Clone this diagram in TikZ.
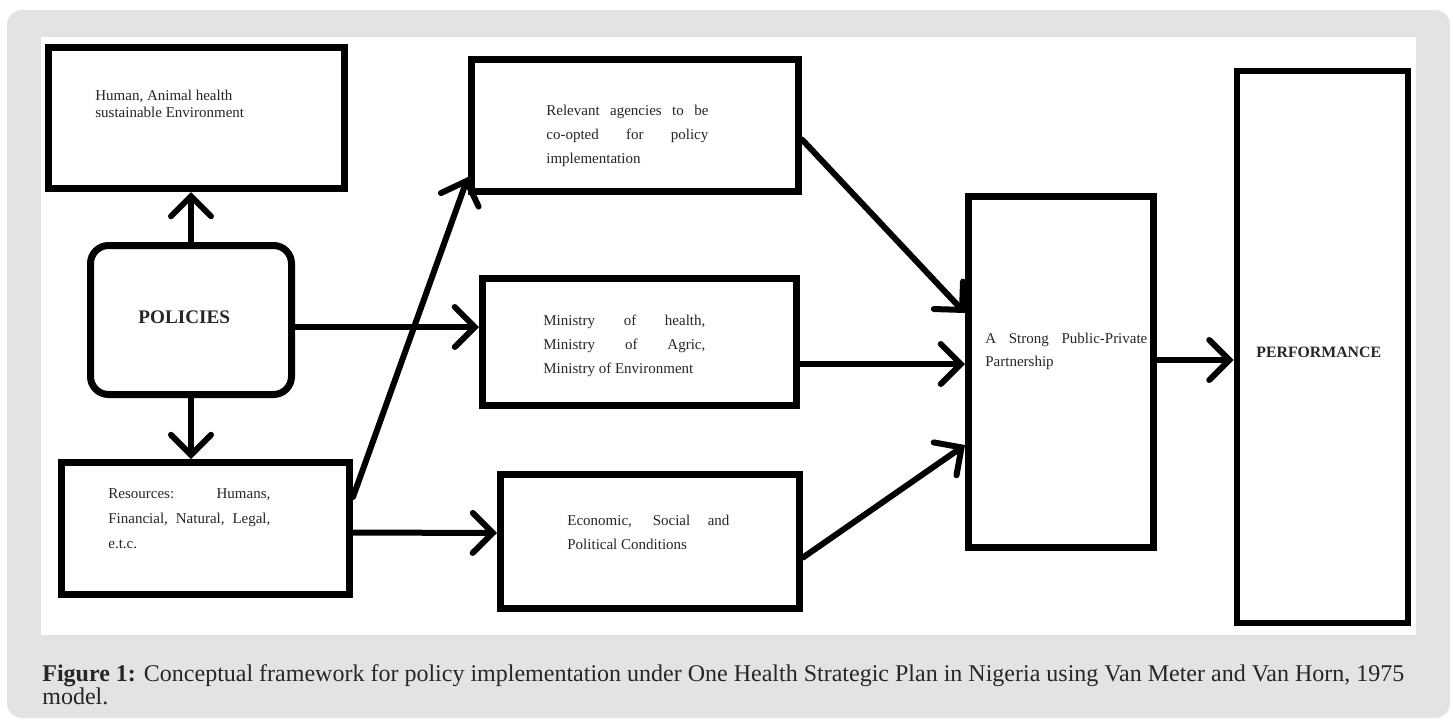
\documentclass[tikz,border=0pt]{standalone}
\usepackage{fontspec}
\setmainfont{Liberation Serif}
\usetikzlibrary{arrows.meta,calc}
\definecolor{panelgray}{HTML}{E3E3E3}
\definecolor{inktext}{HTML}{262626}
\tikzset{
  box/.style={draw, line width=3.5pt, inner sep=0pt},
  conn/.style={line width=3pt, line cap=round, -{Straight Barb[length=10pt,width=20pt,line cap=round]}},
  txt/.style={anchor=north west, inner sep=0pt, align=left, text=inktext, font=\fontsize{7.5}{12}\selectfont},
  captxt/.style={anchor=base west, inner sep=0pt, text=inktext, font=\fontsize{12}{14}\selectfont},
}
\newcommand{\jline}[1]{\makebox[81pt][s]{#1}}
\begin{document}
\begin{tikzpicture}[x=0.5pt,y=-0.5pt]
\useasboundingbox (0,0) rectangle (1453,719);
\fill[white] (0,0) rectangle (1453,719);
\fill[panelgray, rounded corners=7.5pt] (7,10) rectangle (1450,718);
\fill[white] (41,37) rectangle (1416,635);

% boxes
\node[box, minimum width=148pt, minimum height=70.5pt] (hum) at (196.5,118) {};
\node[box, rounded corners=9pt, minimum width=100.5pt, minimum height=74.5pt] (pol) at (191,320) {};
\node[box, minimum width=144pt, minimum height=66pt] (res) at (205.5,528.5) {};
\node[box, minimum width=163.5pt, minimum height=66pt] (rel) at (635,125.5) {};
\node[box, minimum width=157pt, minimum height=63.5pt] (min) at (639.5,342) {};
\node[box, minimum width=149.5pt, minimum height=67pt] (eco) at (650,541.5) {};
\node[box, minimum width=92.5pt, minimum height=175.5pt] (ppp) at (1061,372) {};
\node[box, line width=3pt, minimum width=85.5pt, minimum height=276pt] (perf) at (1322,346.5) {};

% texts
\node[txt, font=\fontsize{7.5}{8.5}\selectfont] (humt) at (95,90) {Human, Animal health\\sustainable Environment};
\node[anchor=base west, inner sep=0pt, text=inktext, font=\fontsize{9.6}{11}\selectfont\bfseries] (polt) at (138,323) {POLICIES};
\node[txt, font=\fontsize{7.5}{12.5}\selectfont] (rest) at (108,488) {\jline{Resources: Humans,}\\\jline{Financial, Natural, Legal,}\\e.t.c.};
\node[txt] (relt) at (546,105) {\jline{Relevant agencies to be}\\\jline{co-opted for policy}\\implementation};
\node[txt] (mint) at (543,315) {\jline{Ministry of health,}\\\jline{Ministry of Agric,}\\Ministry of Environment};
\node[txt] (ecot) at (567,515) {\jline{Economic, Social and}\\Political Conditions};
\node[txt, font=\fontsize{7.5}{11.5}\selectfont] (pppt) at (985,333) {\jline{A Strong Public-Private}\\Partnership};
\node[anchor=base west, inner sep=0pt, text=inktext, font=\fontsize{7.9}{9}\selectfont\bfseries] (perft) at (1256,357) {PERFORMANCE};

% connectors
\draw[conn] (pol.north) -- (pol.north |- hum.south);
\draw[conn] (pol.south) -- (pol.south |- res.north);
\draw[conn] ($(pol.east)+(0,7)$) -- ($(min.west)+(0,-15)$);
\draw[conn] ($(res.north east)+(0,38)$) -- ($(rel.south west)+(0,-18)$);
\draw[conn] ($(res.east)+(0,4)$) -- ($(eco.west)+(0,-8.5)$);
\draw[conn] ($(rel.east)+(0,14)$) -- ($(ppp.west)+(0,-59)$);
\draw[conn] ($(min.east)+(0,22)$) -- ($(ppp.west)+(0,-8)$);
\draw[conn] ($(eco.east)+(0,16)$) -- ($(ppp.west)+(0,73)$);
\draw[conn] ($(ppp.east)+(0,-12)$) -- ($(perf.west)+(0,13.5)$);

% caption
\node[captxt] (cap1) at (42,681) {\textbf{Figure 1:} Conceptual framework for policy implementation under One Health Strategic Plan in Nigeria using Van Meter and Van Horn, 1975};
\node[captxt] (cap2) at (42,704) {model.};
\end{tikzpicture}
\end{document}
